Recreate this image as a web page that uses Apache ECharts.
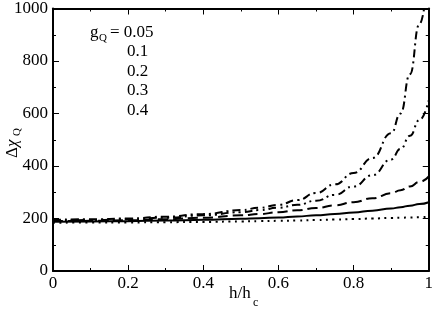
<!DOCTYPE html>
<html>
<head>
<meta charset="utf-8">
<script src="https://cdn.jsdelivr.net/npm/echarts@6/dist/echarts.min.js"></script>
<style>html,body{margin:0;padding:0;background:#fff;}#c{width:436px;height:311px;}</style>
</head>
<body>
<div id="c"></div>
<script>
const hValues = [0,0.1,0.2,0.3,0.4,0.5,0.55,0.6,0.65,0.7,0.75,0.8,0.85,0.9,0.925,0.95,0.975,1.0];
const gDotted   = [184,184.5,185,186,187,189,190,191,192,194,196,198,200,202,203,204,205,207];
const gSolid    = [188,189,190,192,195,199,201,204,208,212,217,223,230,238,243,249,255,262];
const gDashed   = [190,191,193,197,203,212,217,224,231,240,250,262,277,296,308,322,339,360];
const gDashDot2 = [192,194,197,203,212,224,232,241,252,268,290,322,365,425,465,515,575,650];
const gDashDot  = [195,197,200,207,217,232,241,252,270,297,330,373,430,525,600,750,940,1150];
const xTicks = [0,0.2,0.4,0.6,0.8,1];
const yTicks = [0,200,400,600,800,1000];
const legendTitle = 'g';
const legendValues = ['0.05','0.1','0.2','0.3','0.4'];

const font = '"Liberation Serif", "Times New Roman", serif';
function pairs(v){ return hValues.map((h,i)=>[h,v[i]]); }
function fmtX(v){ return String(+v.toFixed(1)); }
function fmtY(v){ return String(Math.round(v)); }

const chart = echarts.init(document.getElementById('c'), null, {renderer:'canvas'});
const axisCommon = {
  axisLine:{show:true,onZero:false,lineStyle:{color:'#000',width:2}},
  axisTick:{show:true,inside:true,length:6,lineStyle:{color:'#000',width:1}},
  minorTick:{show:true,splitNumber:2,length:3,lineStyle:{color:'#000',width:1}},
  splitLine:{show:false}
};
const series = [
  {d:gDotted, t:[2,4.5]},
  {d:gSolid, t:'solid'},
  {d:gDashed, t:[10,5]},
  {d:gDashDot2, t:[8,4,2,4,2,4]},
  {d:gDashDot, t:[8,4,2,4]}
].map(s=>({
  type:'line', data:pairs(s.d), smooth:0.5, smoothMonotone:'x', showSymbol:false, clip:true,
  lineStyle:{color:'#000',width:2,type:s.t}
}));

function txt(x,y,s,size,extra){ return {type:'text', left:x, top:y, style:Object.assign({text:s, fontFamily:font, fontSize:size, fill:'#000'},extra||{})}; }
const legendGraphics = [
  txt(90,24,legendTitle,17),
  txt(99,33,'Q',11),
  txt(110,24,'= '+legendValues[0],17)
];
for (let i=1;i<legendValues.length;i++){
  legendGraphics.push(txt(127,24+19.5*i,legendValues[i],17));
}

chart.setOption({
  animation:false,
  backgroundColor:'#fff',
  textStyle:{fontFamily:font},
  grid:{left:53,right:5,top:8,bottom:40},
  xAxis:[
    Object.assign({type:'value',min:0,max:1,interval:0.2,position:'bottom',
      axisLabel:{color:'#000',fontFamily:font,fontSize:17,margin:4,formatter:fmtX}},axisCommon),
    Object.assign({type:'value',min:0,max:1,interval:0.2,position:'top',axisLabel:{show:false}},axisCommon)
  ],
  yAxis:[
    Object.assign({type:'value',min:0,max:1000,interval:200,position:'left',
      axisLabel:{color:'#000',fontFamily:font,fontSize:17,margin:5,formatter:fmtY}},axisCommon),
    Object.assign({type:'value',min:0,max:1000,interval:200,position:'right',axisLabel:{show:false}},axisCommon)
  ],
  series:series,
  graphic:legendGraphics.concat([
    txt(229,285,'h/h',17),
    txt(253,297,'c',12),
    {type:'group', x:4, y:158, rotation:Math.PI/2, children:[
      {type:'text', x:0, y:0, style:{text:'Δ', fontFamily:font, fontSize:17, fill:'#000'}},
      {type:'text', x:11, y:0, style:{text:'χ', fontFamily:font, fontSize:17, fontStyle:'italic', fill:'#000'}},
      {type:'text', x:22, y:8, style:{text:'Q', fontFamily:font, fontSize:11, fill:'#000'}}
    ]}
  ])
});
</script>
</body>
</html>
